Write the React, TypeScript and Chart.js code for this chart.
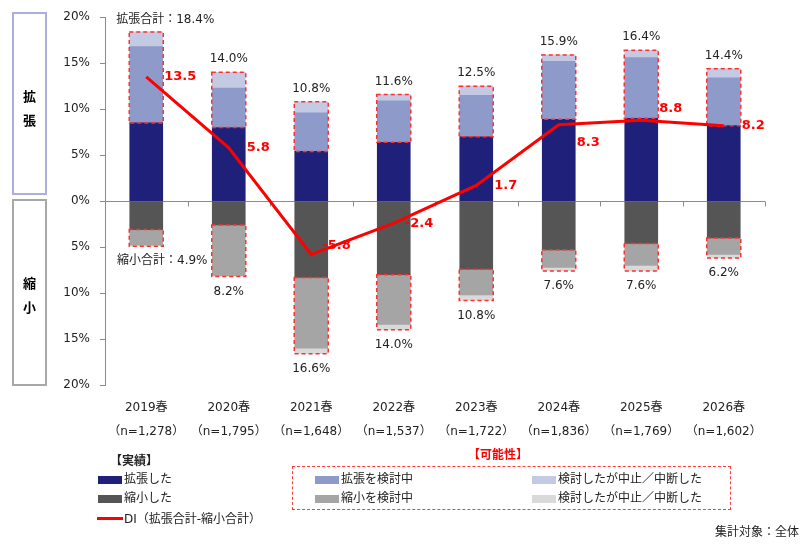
import { useEffect, useRef } from 'react';
import { Chart, registerables } from 'chart.js';
Chart.register(...registerables);

// survey waves
const periods = ['2019春', '2020春', '2021春', '2022春', '2023春', '2024春', '2025春', '2026春'];
const sampleSizes = ['（n=1,278）', '（n=1,795）', '（n=1,648）', '（n=1,537）', '（n=1,722）', '（n=1,836）', '（n=1,769）', '（n=1,602）'];

// expansion side (%)
const expanded = [8.5, 8.0, 5.4, 6.4, 7.0, 8.9, 9.0, 8.2];
const expandConsidering = [8.3, 4.3, 4.2, 4.5, 4.5, 6.3, 6.6, 5.2];
const expandCancelled = [1.6, 1.7, 1.2, 0.7, 1.0, 0.7, 0.8, 1.0];
const expandTotals = [18.4, 14.0, 10.8, 11.6, 12.5, 15.9, 16.4, 14.4];

// shrink side (%)
const shrunk = [3.1, 2.6, 8.3, 8.0, 7.4, 5.3, 4.6, 4.0];
const shrinkConsidering = [1.7, 5.5, 7.7, 5.4, 2.8, 1.9, 2.4, 1.8];
const shrinkCancelled = [0.1, 0.1, 0.6, 0.6, 0.6, 0.4, 0.6, 0.4];
const shrinkTotals = [4.9, 8.2, 16.6, 14.0, 10.8, 7.6, 7.6, 6.2];

// DI = expand total - shrink total
const diValues = [13.5, 5.8, -5.8, -2.4, 1.7, 8.3, 8.8, 8.2];
// vertical nudge for DI labels so they clear the line
const diLabelNudge = [0, 0, -9, 0, 0, 18, -12, 0];

const FONT = "'DejaVu Sans', 'Noto Sans CJK JP', sans-serif";
const RED = '#ff0000';

const overlay = {
  id: 'overlay',
  beforeDatasetsDraw(chart: any) {
    const { ctx, chartArea, scales: { x, y } } = chart;
    const y0 = Math.round(y.getPixelForValue(0)) + 0.5;
    ctx.save();
    ctx.strokeStyle = '#8c8c8c';
    ctx.lineWidth = 1;
    ctx.beginPath();
    ctx.moveTo(chartArea.left, y0);
    ctx.lineTo(chartArea.right, y0);
    for (let i = 1; i <= periods.length; i++) {
      const px = Math.round(x.getPixelForValue(i - 0.5)) + 0.5;
      ctx.moveTo(px, y0);
      ctx.lineTo(px, y0 + 5);
    }
    ctx.stroke();
    ctx.restore();
  },
  beforeDatasetDraw(chart: any, args: any) {
    if (args.meta.type !== 'line') return;
    const { ctx, scales: { x, y } } = chart;
    ctx.save();
    ctx.strokeStyle = '#ff3030';
    ctx.lineWidth = 1.5;
    ctx.setLineDash([4, 3]);
    periods.forEach((_, i) => {
      const cx = x.getPixelForValue(i);
      const left = cx - 17;
      const t1 = y.getPixelForValue(expandTotals[i]);
      const b1 = y.getPixelForValue(expanded[i]);
      ctx.strokeRect(left, t1, 34, b1 - t1);
      const t2 = y.getPixelForValue(-shrunk[i]);
      const b2 = y.getPixelForValue(-shrinkTotals[i]);
      ctx.strokeRect(left, t2, 34, b2 - t2);
    });
    ctx.restore();
  },
  afterDatasetsDraw(chart: any) {
    const { ctx, scales: { x, y } } = chart;
    ctx.save();
    ctx.font = `12px ${FONT}`;
    ctx.fillStyle = '#222';
    ctx.textAlign = 'center';
    ctx.textBaseline = 'middle';
    periods.forEach((_, i) => {
      const cx = x.getPixelForValue(i);
      const top = y.getPixelForValue(expandTotals[i]);
      const bottom = y.getPixelForValue(-shrinkTotals[i]);
      if (i === 0) {
        ctx.fillText(`拡張合計：${expandTotals[i].toFixed(1)}%`, cx + 19, top - 12);
        ctx.fillText(`縮小合計：${shrinkTotals[i].toFixed(1)}%`, cx + 16, bottom + 15);
      } else {
        ctx.fillText(`${expandTotals[i].toFixed(1)}%`, cx, top - 13);
        ctx.fillText(`${shrinkTotals[i].toFixed(1)}%`, cx, bottom + 15);
      }
    });
    ctx.font = `bold 13px ${FONT}`;
    ctx.fillStyle = RED;
    ctx.textAlign = 'left';
    diValues.forEach((v, i) => {
      const cx = x.getPixelForValue(i);
      const py = y.getPixelForValue(v);
      ctx.fillText(v.toFixed(1), cx + (v < 0 ? 11 : 18), py + diLabelNudge[i]);
    });
    ctx.restore();
  },
};

function Swatch({ left, top, color }: { left: number; top: number; color: string }) {
  return <div style={{ position: 'absolute', left, top, width: 24, height: 8, background: color }} />;
}

function Label({ left, top, children, style }: { left: number; top: number; children: any; style?: any }) {
  return (
    <div style={{ position: 'absolute', left, top: top - 8, lineHeight: '16px', fontSize: 12, color: '#222', whiteSpace: 'nowrap', ...style }}>
      {children}
    </div>
  );
}

export default function App() {
  const canvasRef = useRef<HTMLCanvasElement>(null);
  const chartRef = useRef<Chart | null>(null);

  useEffect(() => {
    if (!canvasRef.current) return;
    if (chartRef.current) chartRef.current.destroy();

    const bar = (label: string, data: number[], color: string) => ({
      type: 'bar' as const,
      label,
      data,
      backgroundColor: color,
      barThickness: 33,
      order: 1,
    });

    chartRef.current = new Chart(canvasRef.current, {
      type: 'bar',
      data: {
        labels: periods.map((p, i) => [p, sampleSizes[i]]),
        datasets: [
          {
            type: 'line' as const,
            label: 'DI（拡張合計-縮小合計）',
            data: diValues,
            borderColor: RED,
            borderWidth: 3,
            pointRadius: 0,
            tension: 0,
            order: 0,
          },
          bar('拡張した', expanded, '#1f207a'),
          bar('拡張を検討中', expandConsidering, '#8e9ac9'),
          bar('検討したが中止／中断した', expandCancelled, '#c5cae4'),
          bar('縮小した', shrunk.map(v => -v), '#555555'),
          bar('縮小を検討中', shrinkConsidering.map(v => -v), '#a5a5a5'),
          bar('検討したが中止／中断した', shrinkCancelled.map(v => -v), '#d9d9d9'),
        ] as any,
      },
      options: {
        responsive: true,
        maintainAspectRatio: false,
        animation: false,
        layout: { padding: { top: 15, right: 42, bottom: 0, left: 0 } },
        plugins: { legend: { display: false }, tooltip: { enabled: false } },
        scales: {
          x: {
            stacked: true,
            grid: { display: false, drawTicks: false },
            border: { display: false },
            ticks: { color: '#222', padding: 11, font: { size: 12, family: FONT, lineHeight: 2 }, maxRotation: 0 },
            afterFit: (s: any) => { s.height = 161; },
          },
          y: {
            stacked: true,
            min: -20,
            max: 20,
            grid: { display: true, drawOnChartArea: false, drawTicks: true, tickLength: 5, color: '#8c8c8c' },
            border: { display: true, color: '#8c8c8c' },
            ticks: {
              stepSize: 5,
              color: '#222',
              padding: 10,
              font: { size: 12, family: FONT },
              callback: (v: number | string) => Math.abs(Number(v)) + '%',
            },
            afterFit: (s: any) => { s.width = 105; },
          },
        },
      },
      plugins: [overlay],
    });

    return () => { chartRef.current?.destroy(); };
  }, []);

  return (
    <div style={{ position: 'absolute', left: 0, top: 0, width: 807, height: 546, fontFamily: FONT, background: '#fff' }}>
      <div style={{ position: 'absolute', left: 0, top: 0, width: 807, height: 546 }}>
        <canvas ref={canvasRef} role="img" aria-label="拡張・縮小の推移とDI" />
      </div>

      <div style={{ position: 'absolute', left: 12, top: 12, width: 31, height: 179, border: '2px solid #aab0da', fontWeight: 'bold', fontSize: 13, textAlign: 'center' }}>
        <div style={{ marginTop: 71, lineHeight: '24px' }}>拡<br />張</div>
      </div>
      <div style={{ position: 'absolute', left: 12, top: 199, width: 31, height: 183, border: '2px solid #a8a8a8', fontWeight: 'bold', fontSize: 13, textAlign: 'center' }}>
        <div style={{ marginTop: 71, lineHeight: '24px' }}>縮<br />小</div>
      </div>

      <Label left={110} top={461} style={{ fontWeight: 'bold' }}>【実績】</Label>
      <Swatch left={98} top={476} color="#1f207a" />
      <Label left={124} top={479}>拡張した</Label>
      <Swatch left={98} top={495} color="#555555" />
      <Label left={124} top={498}>縮小した</Label>
      <div style={{ position: 'absolute', left: 97, top: 517, width: 26, height: 3, background: RED }} />
      <Label left={124} top={519}>DI（拡張合計-縮小合計）</Label>

      <Label left={468} top={455} style={{ fontWeight: 'bold', color: RED }}>【可能性】</Label>
      <div style={{ position: 'absolute', left: 292, top: 466, width: 437, height: 42, border: '1.5px dashed #ff3b3b' }} />
      <Swatch left={315} top={476} color="#8e9ac9" />
      <Label left={341} top={479}>拡張を検討中</Label>
      <Swatch left={315} top={495} color="#a5a5a5" />
      <Label left={341} top={498}>縮小を検討中</Label>
      <Swatch left={532} top={476} color="#c5cae4" />
      <Label left={558} top={479}>検討したが中止／中断した</Label>
      <Swatch left={532} top={495} color="#d9d9d9" />
      <Label left={558} top={498}>検討したが中止／中断した</Label>

      <Label left={715} top={532}>集計対象：全体</Label>
    </div>
  );
}
